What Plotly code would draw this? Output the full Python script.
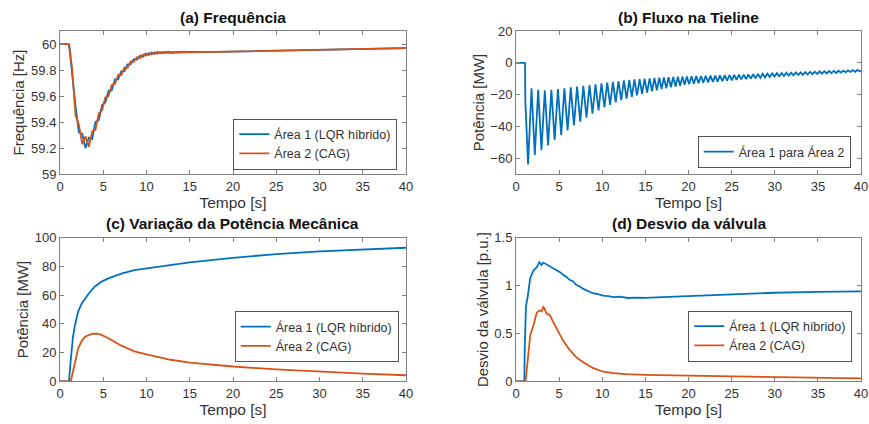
import plotly.graph_objects as go

W, H = 869, 424
BLUE = "#0072BD"
ORANGE = "#D95319"

# ---------------- (a) Frequency ----------------
freq_t = [0, 1.0, 1.1, 1.40, 1.80, 2.18, 2.57, 2.95, 3.34, 3.72, 4.10, 4.48, 4.86,
          5.24, 5.61, 5.98, 6.35, 6.72, 7.08, 7.45, 7.81, 8.17, 8.52, 8.87, 9.22,
          9.57, 9.91, 10.25, 10.58, 10.91, 11.24, 11.56, 11.88, 12.20, 12.51, 12.82,
          13.13, 13.43, 13.73, 14.03, 14.33, 14.62, 14.91, 17, 20, 25, 30, 35, 40]
freq_area1 = [60, 60, 59.96, 59.76, 59.52, 59.32, 59.31, 59.20, 59.28, 59.27, 59.40,
              59.415, 59.53, 59.55, 59.64, 59.645, 59.728, 59.728, 59.79, 59.791,
              59.843, 59.843, 59.883, 59.878, 59.909, 59.902, 59.926, 59.916, 59.934,
              59.924, 59.938, 59.928, 59.939, 59.930, 59.940, 59.931, 59.939, 59.932,
              59.940, 59.934, 59.940, 59.935, 59.940, 59.938, 59.942, 59.948, 59.955,
              59.962, 59.968]
freq_area2 = [60, 60, 59.98, 59.81, 59.45, 59.38, 59.23, 59.29, 59.21, 59.33, 59.34,
              59.465, 59.49, 59.59, 59.60, 59.685, 59.692, 59.762, 59.76, 59.819,
              59.817, 59.867, 59.861, 59.898, 59.891, 59.918, 59.910, 59.930, 59.920,
              59.936, 59.926, 59.938, 59.929, 59.940, 59.930, 59.939, 59.931, 59.940,
              59.932, 59.940, 59.934, 59.940, 59.935, 59.938, 59.942, 59.948, 59.955,
              59.962, 59.968]

# ---------------- (b) Tie-line flow ----------------
tie_t = [0, 1.05, 1.08,
         1.40, 1.80, 2.18, 2.57, 2.95, 3.34, 3.72, 4.10, 4.48, 4.86, 5.24, 5.61,
         5.98, 6.35, 6.72, 7.08, 7.45, 7.81, 8.17, 8.52, 8.87, 9.22, 9.57, 9.91,
         10.25, 10.58, 10.91, 11.24, 11.56, 11.88, 12.20, 12.51, 12.82, 13.13,
         13.43, 13.73, 14.03, 14.33, 14.62, 14.91, 15.20, 15.49, 15.77, 16.05,
         16.33, 16.61, 16.88, 17.15, 17.42, 17.69, 17.96, 18.23, 18.50, 18.77,
         19.03, 19.29, 19.55, 19.81,
         20.07, 20.35, 20.62, 20.90, 21.17, 21.45, 21.72, 22.00, 22.27, 22.55,
         22.82, 23.10, 23.37, 23.65, 23.92, 24.20, 24.47, 24.75, 25.02, 25.30,
         25.57, 25.85, 26.12, 26.40, 26.67, 26.95, 27.22, 27.50, 27.77, 28.05,
         28.32, 28.60, 28.87, 29.15, 29.42, 29.70, 29.97, 30.25, 30.52, 30.80,
         31.07, 31.35, 31.62, 31.90, 32.17, 32.45, 32.72, 33.00, 33.27, 33.55,
         33.82, 34.10, 34.37, 34.65, 34.92, 35.20, 35.47, 35.75, 36.02, 36.30,
         36.57, 36.85, 37.12, 37.40, 37.67, 37.95, 38.22, 38.50, 38.77, 39.05,
         39.32, 39.60, 39.87, 40.0]
tie_flow = [0, 0, -24,
            -64, -16, -58, -17, -55, -17.5, -52, -17, -48.5, -16.5, -45.5, -16,
            -42.5, -15.5, -39.5, -15, -37, -14.5, -34.5, -14, -32, -13.5, -30, -13,
            -28, -12.5, -26.5, -12, -25, -11.5, -23.5, -11, -22.5, -10.8,
            -21.5, -10.5, -20.5, -10.3, -19.5, -10, -18.8, -9.8, -18, -9.6,
            -17.3, -9.4, -16.6, -9.2, -16, -9, -15.4, -8.9, -14.9, -8.8,
            -14.4, -8.7, -13.9, -8.6,
            -13.5, -8.5, -13.2, -8.4, -12.9, -8.3, -12.6, -8.2, -12.4, -8.1,
            -12.1, -8.0, -11.9, -7.9, -11.6, -7.8, -11.3, -7.7, -11.0, -7.6,
            -10.8, -7.5, -10.5, -7.4, -10.3, -7.3, -10.0, -7.2, -9.8, -7.0,
            -9.5, -6.9, -9.3, -6.8, -9.0, -6.6, -8.7, -6.5, -8.5, -6.4,
            -8.3, -6.3, -8.1, -6.2, -7.9, -6.1, -7.7, -6.0, -7.6, -5.9,
            -7.4, -5.7, -7.2, -5.6, -7.0, -5.4, -6.9, -5.3, -6.7, -5.2,
            -6.5, -5.1, -6.4, -5.0, -6.2, -4.9, -6.0, -4.8, -5.8, -4.6,
            -5.7, -4.5, -5.5, -5.0]

# ---------------- (c) Mechanical power ----------------
mp1_t = [0, 1.04, 1.2, 1.35, 1.5, 1.73, 2.1, 2.5, 2.9, 3.3, 4.05, 4.8, 5.6, 7.1,
         8.6, 10, 12.8, 15, 20, 25, 30, 35, 40]
mp1 = [0, 0, 12, 25, 31, 39, 48.5, 54, 58, 61, 66, 69.4, 71.7, 75,
       77.5, 78.7, 81.4, 82.8, 86, 88.6, 90.5, 92, 93]
mp2_t = [0, 1.25, 1.4, 1.73, 2.1, 2.5, 2.9, 3.7, 4.3, 4.8, 5.6, 7.1, 8.6, 10, 11,
         12.8, 15, 20, 25, 30, 35, 40]
mp2 = [0, 0, 4, 13.7, 23, 28, 31, 33, 33.2, 32.3, 30, 24.8, 20.8, 18.7, 17.3,
       15, 13, 10.3, 8.3, 6.6, 5.3, 4.2]

# ---------------- (d) Valve deviation ----------------
v1_t = [0, 0.97, 1.0, 1.15, 1.35, 1.65, 2.04, 2.4, 2.7, 2.97, 3.16, 3.55, 3.9,
        4.3, 4.7, 5.1, 5.5, 5.85, 6.2, 6.6, 7.0, 7.4, 7.8, 8.3, 8.9, 9.5, 10.1,
        10.7, 11.3, 12, 13, 14, 15, 17, 20, 25, 30, 35, 40]
v1 = [0, 0, 0.3, 0.78, 0.88, 1.08, 1.16, 1.19, 1.245, 1.215, 1.24, 1.22, 1.205,
      1.18, 1.16, 1.14, 1.11, 1.09, 1.06, 1.045, 1.005, 0.99, 0.965, 0.945, 0.92,
      0.91, 0.895, 0.89, 0.88, 0.885, 0.87, 0.875, 0.872, 0.88, 0.89, 0.91,
      0.925, 0.935, 0.94]
v2_t = [0, 1.1, 1.2, 1.4, 1.65, 2.04, 2.4, 2.7, 2.97, 3.16, 3.3, 3.55, 3.9, 4.3,
        4.7, 5.0, 5.5, 6.2, 7.0, 7.8, 8.9, 10.1, 11.3, 12.8, 15, 20, 25, 30, 35, 40]
v2 = [0, 0, 0.08, 0.3, 0.48, 0.59, 0.715, 0.74, 0.73, 0.775, 0.76, 0.705, 0.695,
      0.62, 0.55, 0.5, 0.42, 0.33, 0.25, 0.2, 0.14, 0.1, 0.085, 0.075, 0.068,
      0.06, 0.052, 0.045, 0.037, 0.03]

lbl1 = "Área 1 (LQR híbrido)"
lbl2 = "Área 2 (CAG)"
lbl_tie = "Área 1 para Área 2"

FONT = "Liberation Sans, Arial, sans-serif"
TXT = "#333333"
AX = "#808080"
LW = 1.8


def PX(x):  # screen pixel -> paper x
    return x / W


def PY(y):  # screen pixel -> paper y
    return (H - y) / H


fig = go.Figure()


def add(x, y, name, color, xa, ya, leg):
    fig.add_trace(go.Scatter(x=x, y=y, mode="lines", name=name,
                             line=dict(color=color, width=LW),
                             xaxis=xa, yaxis=ya, legend=leg, hoverinfo="skip"))


add(freq_t, freq_area1, lbl1, BLUE, "x", "y", "legend")
add(freq_t, freq_area2, lbl2, ORANGE, "x", "y", "legend")
add(tie_t, tie_flow, lbl_tie, BLUE, "x2", "y2", "legend2")
add(mp1_t, mp1, lbl1, BLUE, "x3", "y3", "legend3")
add(mp2_t, mp2, lbl2, ORANGE, "x3", "y3", "legend3")
add(v1_t, v1, lbl1, BLUE, "x4", "y4", "legend4")
add(v2_t, v2, lbl2, ORANGE, "x4", "y4", "legend4")

xl = [PX(60), PX(406)]
xr = [PX(516), PX(861)]
yt = [PY(174), PY(31)]
yb = [PY(381.3), PY(237.7)]


def xaxis(dom, anchor):
    return dict(domain=dom, anchor=anchor, range=[0, 40], tickvals=list(range(0, 41, 5)),
                ticks="inside", ticklen=4, tickcolor=AX, showline=True, linecolor=AX,
                linewidth=1, mirror="ticks", showgrid=False, zeroline=False,
                automargin=False, ticklabeloverflow="allow",
                tickfont=dict(family=FONT, size=13, color=TXT),
                title=dict(text="Tempo [s]", font=dict(family=FONT, size=15.5, color=TXT),
                           standoff=0))


def yaxis(dom, anchor, rng, vals, text, labels=None):
    d = dict(domain=dom, anchor=anchor, range=rng, tickvals=vals,
             ticks="inside", ticklen=4, tickcolor=AX, showline=True, linecolor=AX,
             linewidth=1, mirror="ticks", showgrid=False, zeroline=False,
             automargin=False, ticklabeloverflow="allow",
             tickfont=dict(family=FONT, size=13, color=TXT),
             title=dict(text=text, font=dict(family=FONT, size=15, color=TXT),
                        standoff=2))
    if labels is not None:
        d["ticktext"] = labels
    return d


freq_ticks = [59, 59.2, 59.4, 59.6, 59.8, 60]
freq_labels = ["59", "59.2", "59.4", "59.6", "59.8", "60"]
tie_ticks = [-60, -40, -20, 0, 20]
mp_ticks = [0, 20, 40, 60, 80, 100]
v_ticks = [0, 0.5, 1, 1.5]
v_labels = ["0", "0.5", "1", "1.5"]


def legend(xr_px, yc_px):
    return dict(x=PX(xr_px), y=PY(yc_px), xanchor="right", yanchor="middle",
                bgcolor="white", bordercolor="#555555", borderwidth=1,
                font=dict(family=FONT, size=12.5, color=TXT), tracegroupgap=0,
                itemwidth=30)


fig.update_layout(
    width=W, height=H, margin=dict(l=0, r=0, t=0, b=0, autoexpand=False),
    paper_bgcolor="white", plot_bgcolor="white",
    showlegend=True, hovermode=False,
    xaxis=xaxis(xl, "y"), yaxis=yaxis(yt, "x", [59, 60.1], freq_ticks, "Frequência [Hz]", freq_labels),
    xaxis2=xaxis(xr, "y2"), yaxis2=yaxis(yt, "x2", [-70, 20], tie_ticks, "Potência [MW]"),
    xaxis3=xaxis(xl, "y3"), yaxis3=yaxis(yb, "x3", [0, 100], mp_ticks, "Potência [MW]"),
    xaxis4=xaxis(xr, "y4"), yaxis4=yaxis(yb, "x4", [0, 1.5], v_ticks, "Desvio da válvula [p.u.]", v_labels),
    legend=legend(397.3, 144),
    legend2=legend(850.7, 152),
    legend3=legend(398.7, 336.5),
    legend4=legend(852.3, 336),
)

titles = [("(a) Frequência", 233, 17), ("(b) Fluxo na Tieline", 688, 17),
          ("(c) Variação da Potência Mecânica", 233, 223), ("(d) Desvio da válvula", 689, 223)]
for text, cx, cy in titles:
    fig.add_annotation(text="<b>%s</b>" % text, x=PX(cx), y=PY(cy), xref="paper",
                       yref="paper", showarrow=False, xanchor="center", yanchor="middle",
                       font=dict(family=FONT, size=15.5, color="#111111"))

fig.write_html("out.html", config={"displayModeBar": False, "staticPlot": True},
               post_script="document.body.style.margin='0';document.body.style.overflow='hidden';")
